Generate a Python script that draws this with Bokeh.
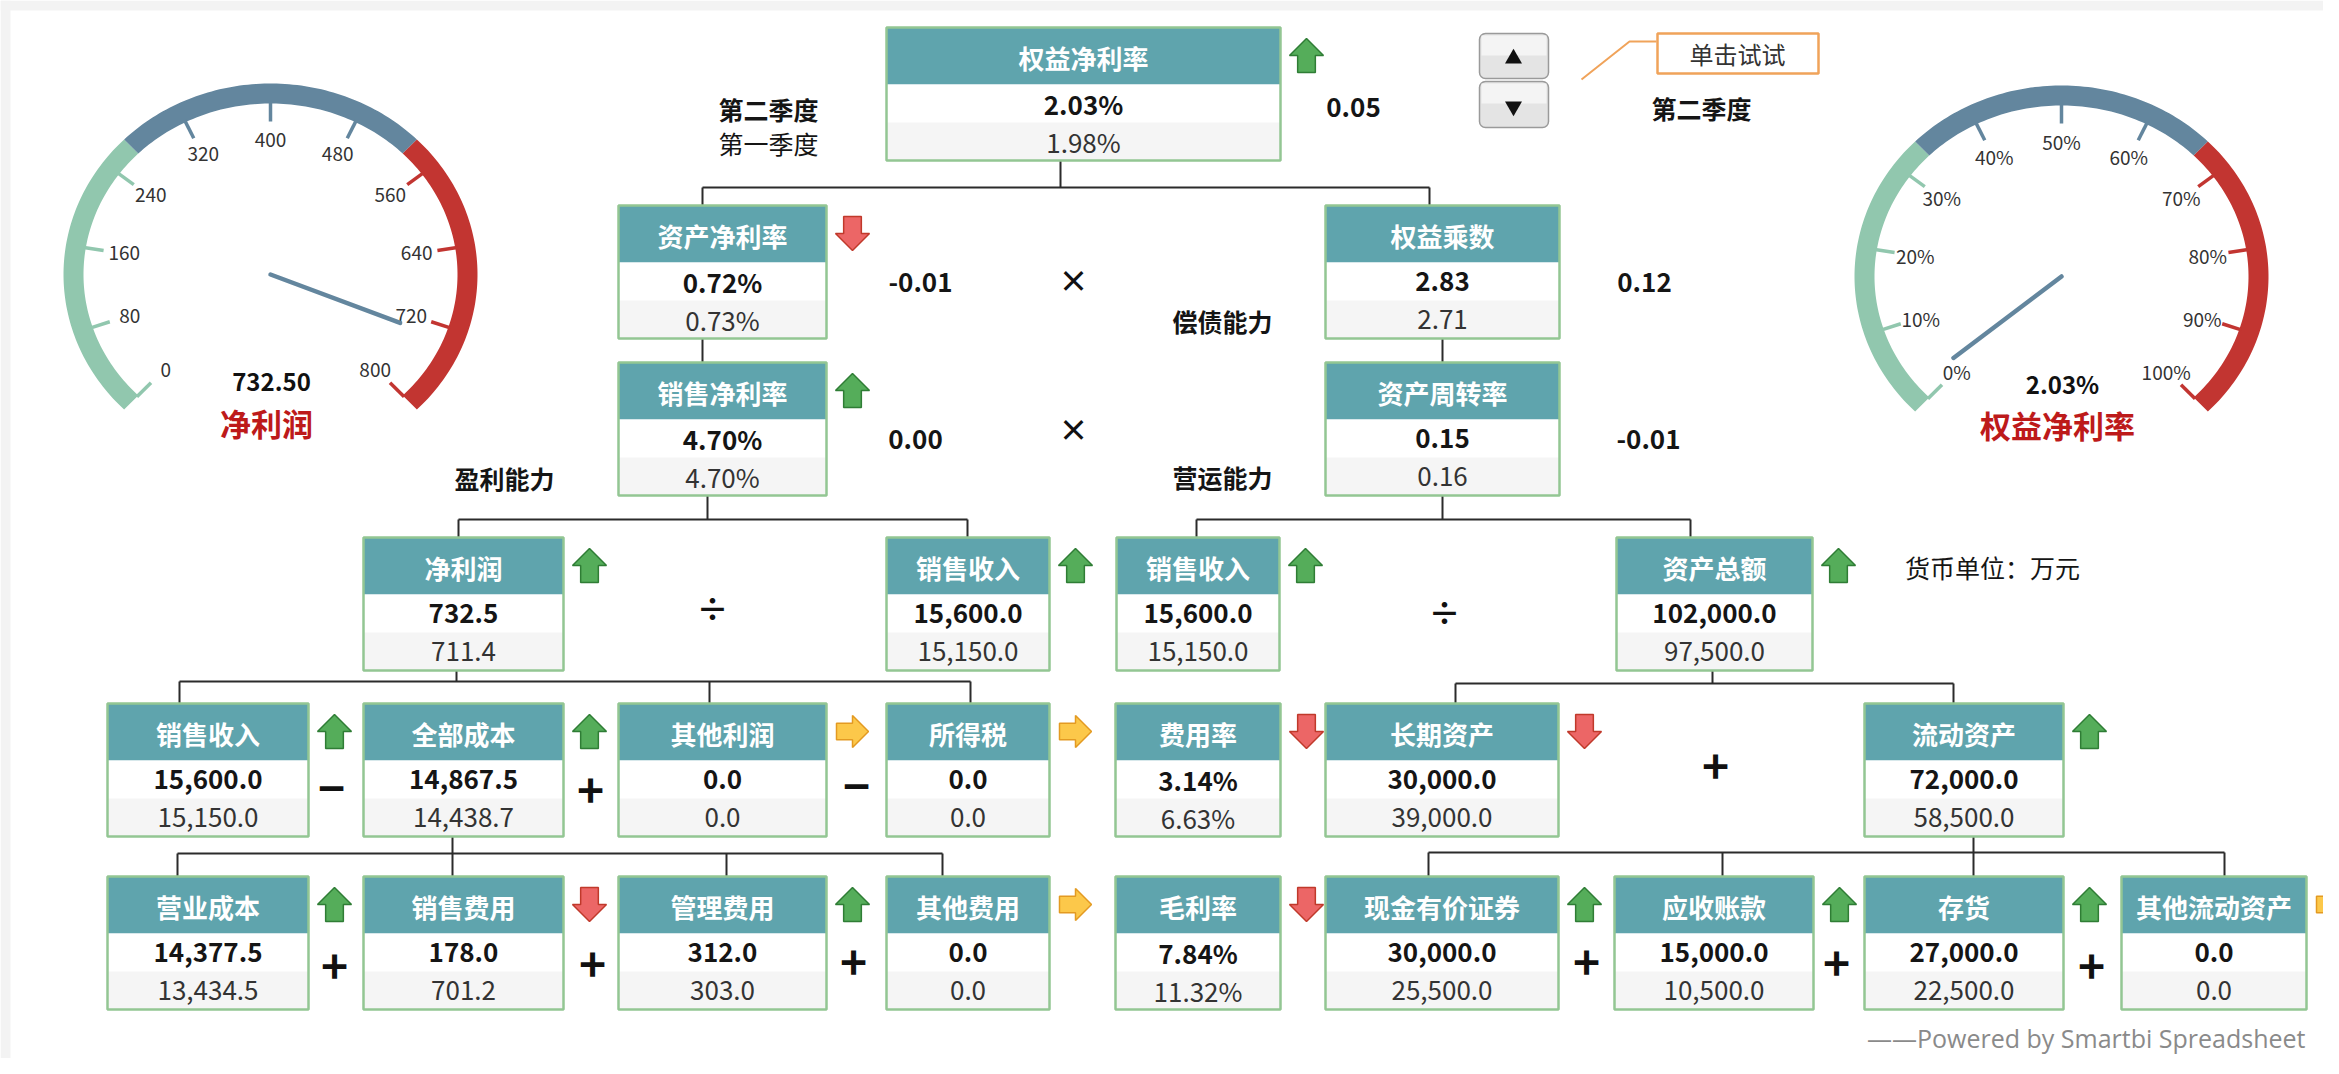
import numpy as np
from bokeh.plotting import figure
from bokeh.models import Range1d, ColumnDataSource
from bokeh.core.properties import value
from bokeh.embed import file_html
from bokeh.resources import INLINE

FONT = value("Noto Sans CJK SC")

# ------------------------------------------------------------------ data
node_names = ["权益净利率", "资产净利率", "权益乘数", "销售净利率", "资产周转率",
              "净利润", "销售收入", "销售收入", "资产总额",
              "销售收入", "全部成本", "其他利润", "所得税", "费用率", "长期资产", "流动资产",
              "营业成本", "销售费用", "管理费用", "其他费用", "毛利率", "现金有价证券",
              "应收账款", "存货", "其他流动资产"]
cur_vals = ["2.03%", "0.72%", "2.83", "4.70%", "0.15",
            "732.5", "15,600.0", "15,600.0", "102,000.0",
            "15,600.0", "14,867.5", "0.0", "0.0", "3.14%", "30,000.0", "72,000.0",
            "14,377.5", "178.0", "312.0", "0.0", "7.84%", "30,000.0",
            "15,000.0", "27,000.0", "0.0"]
prev_vals = ["1.98%", "0.73%", "2.71", "4.70%", "0.16",
             "711.4", "15,150.0", "15,150.0", "97,500.0",
             "15,150.0", "14,438.7", "0.0", "0.0", "6.63%", "39,000.0", "58,500.0",
             "13,434.5", "701.2", "303.0", "0.0", "11.32%", "25,500.0",
             "10,500.0", "22,500.0", "0.0"]
node_trend = ["up", "down", "none", "up", "none",
              "up", "up", "up", "up",
              "up", "up", "flat", "flat", "down", "down", "up",
              "up", "down", "up", "flat", "down", "up",
              "up", "up", "flat"]
diff_labels = ["0.05", "-0.01", "0.12", "0.00", "-0.01"]
operators = ["×", "×", "÷", "÷", "−", "+", "−", "+", "+", "+", "+", "+", "+", "+"]
period_labels = ["第二季度", "第一季度", "第二季度"]
side_labels = ["偿债能力", "盈利能力", "营运能力", "货币单位：万元"]
button_text = "单击试试"
footer_text = "——Powered by Smartbi Spreadsheet"

gauge1_title = "净利润"
gauge1_value = 732.5
gauge1_max = 800
gauge1_ticks = [0, 80, 160, 240, 320, 400, 480, 560, 640, 720, 800]
gauge1_labels = ["0", "80", "160", "240", "320", "400", "480", "560", "640", "720", "800"]
gauge1_text = "732.50"

gauge2_title = "权益净利率"
gauge2_value = 2.03
gauge2_max = 100
gauge2_ticks = [0, 10, 20, 30, 40, 50, 60, 70, 80, 90, 100]
gauge2_labels = ["0%", "10%", "20%", "30%", "40%", "50%", "60%", "70%", "80%", "90%", "100%"]
gauge2_text = "2.03%"

gauge_bands = [1 / 3, 2 / 3, 1.0]
gauge_colors = ["#91c7ae", "#63869e", "#c23531"]

# ------------------------------------------------------------------ layout
row_tops = [27, 205, 362, 537, 703, 876]
box_layout = [  # x0, x1, row
    (886, 1280, 0),
    (618, 826, 1), (1325, 1559, 1),
    (618, 826, 2), (1325, 1559, 2),
    (363, 563, 3), (886, 1049, 3), (1116, 1279, 3), (1616, 1812, 3),
    (107, 308, 4), (363, 563, 4), (618, 826, 4), (886, 1049, 4),
    (1115, 1280, 4), (1325, 1558, 4), (1864, 2063, 4),
    (107, 308, 5), (363, 563, 5), (618, 826, 5), (886, 1049, 5),
    (1115, 1280, 5), (1325, 1558, 5), (1614, 1813, 5), (1864, 2063, 5), (2121, 2306, 5),
]
H_HEAD, H_ROW = 57, 38

diff_pos = [(1353, 107), (920, 282), (1644, 282), (915, 439), (1648, 439)]
op_pos = [(1073, 278), (1073, 427), (712, 606), (1444, 610),
          (331, 788), (590, 790), (856, 786), (1715, 766),
          (334, 966), (592, 964), (853, 962), (1586, 962), (1836, 963), (2091, 966)]
op_size = ["30px", "30px", "32px", "32px"] + ["46px"] * 10
period_pos = [(768, 108), (768, 142), (1701, 107)]
period_bold = ["bold", "normal", "bold"]
side_pos = [(1222, 320), (504, 477), (1222, 476), (1992, 566)]
side_bold = ["bold", "bold", "bold", "normal"]

W, H = 2323, 1058
p = figure(width=W, height=H, x_range=Range1d(0, W), y_range=Range1d(H, 0),
           output_backend="svg", toolbar_location=None, min_border=0,
           x_axis_type=None, y_axis_type=None)
p.outline_line_color = None
p.background_fill_color = "white"
p.border_fill_color = "white"

# top / left light band of the sheet
p.quad(left=[0, 0], right=[W, 10], top=[0, 0], bottom=[10, H],
       fill_color="#f3f3f3", line_color=None)

# ------------------------------------------------------------------ connectors
conn_x = [
    [1060, 1060], [702, 1429], [702, 702], [1429, 1429],
    [702, 702], [1442, 1442],
    [707, 707], [458, 967], [458, 458], [967, 967],
    [1442, 1442], [1196, 1690], [1196, 1196], [1690, 1690],
    [456, 456], [179, 970], [179, 179], [709, 709], [970, 970],
    [1712, 1712], [1455, 1953], [1455, 1455], [1953, 1953],
    [452, 452], [177, 942], [177, 177], [726, 726], [942, 942],
    [1973, 1973], [1428, 2224], [1428, 1428], [1722, 1722], [2224, 2224],
]
conn_y = [
    [160, 187], [187, 187], [187, 205], [187, 205],
    [338, 362], [338, 362],
    [495, 519], [519, 519], [519, 537], [519, 537],
    [495, 519], [519, 519], [519, 537], [519, 537],
    [670, 681], [681, 681], [681, 703], [681, 703], [681, 703],
    [670, 683], [683, 683], [683, 703], [683, 703],
    [836, 876], [853, 853], [853, 876], [853, 876], [853, 876],
    [836, 876], [852, 852], [852, 876], [852, 876], [852, 876],
]
p.multi_line(conn_x, conn_y, line_color="#2b2b2b", line_width=2)

# ------------------------------------------------------------------ boxes
bx0 = [b[0] for b in box_layout]
bx1 = [b[1] for b in box_layout]
btop = [row_tops[b[2]] for b in box_layout]
src = ColumnDataSource(dict(
    x0=bx0, x1=bx1,
    t=btop,
    h1=[t + H_HEAD for t in btop],
    h2=[t + H_HEAD + H_ROW for t in btop],
    h3=[t + H_HEAD + 2 * H_ROW for t in btop],
    cx=[(a + b) / 2 for a, b in zip(bx0, bx1)],
    ty=[t + H_HEAD / 2 + 1 for t in btop],
    vy=[t + H_HEAD + H_ROW / 2 for t in btop],
    py=[t + H_HEAD + 1.5 * H_ROW for t in btop],
    name=node_names, cur=cur_vals, prev=prev_vals,
))
p.quad(left="x0", right="x1", top="t", bottom="h1", source=src,
       fill_color="#5fa4ad", line_color=None)
p.quad(left="x0", right="x1", top="h1", bottom="h2", source=src,
       fill_color="white", line_color=None)
p.quad(left="x0", right="x1", top="h2", bottom="h3", source=src,
       fill_color="#f5f5f5", line_color=None)
p.quad(left="x0", right="x1", top="t", bottom="h3", source=src,
       fill_color=None, line_color="#93c693", line_width=2.5)
p.text(x="cx", y="ty", text="name", source=src, text_font=FONT, text_font_style="bold",
       text_font_size="26px", text_color="white", text_align="center", text_baseline="middle")
p.text(x="cx", y="vy", text="cur", source=src, text_font=FONT, text_font_style="bold",
       text_font_size="26px", text_color="#151515", text_align="center", text_baseline="middle")
p.text(x="cx", y="py", text="prev", source=src, text_font=FONT,
       text_font_size="26px", text_color="#333333", text_align="center", text_baseline="middle")

# ------------------------------------------------------------------ trend arrows
def arrow_shape(cx, cy, d, s):
    local = [(0, -s), (s, 0), (s * 0.52, 0), (s * 0.52, s), (-s * 0.52, s), (-s * 0.52, 0), (-s, 0)]
    if d == "up":
        pts = local
    elif d == "down":
        pts = [(x, -y) for x, y in local]
    else:
        pts = [(-y, x) for x, y in local]
    return [cx + x for x, _ in pts], [cy + y for _, y in pts]

arrow_style = {"up": ("#55ad5a", "#2f7d35", 17),
               "down": ("#ec6666", "#c0392b", 17),
               "flat": ("#fcc84a", "#e39a22", 16)}
axs, ays, afc, alc = [], [], [], []
for (x0, x1, r), tr in zip(box_layout, node_trend):
    if tr == "none":
        continue
    fc, lc, s = arrow_style[tr]
    ax, ay = arrow_shape(x1 + 26, row_tops[r] + 28, tr, s)
    axs.append(ax); ays.append(ay); afc.append(fc); alc.append(lc)
p.patches(axs, ays, fill_color=afc, line_color=alc, line_width=1.5)

# ------------------------------------------------------------------ free texts
p.text(x=[q[0] for q in diff_pos], y=[q[1] for q in diff_pos], text=diff_labels,
       text_font=FONT, text_font_style="bold", text_font_size="26px", text_color="#151515",
       text_align="center", text_baseline="middle")
osrc = ColumnDataSource(dict(x=[q[0] for q in op_pos], y=[q[1] for q in op_pos],
                             t=operators, fs=op_size))
p.text(x="x", y="y", text="t", source=osrc, text_font=FONT, text_font_style="bold",
       text_font_size="fs", text_color="#111111", text_align="center", text_baseline="middle")
psrc = ColumnDataSource(dict(x=[q[0] for q in period_pos], y=[q[1] for q in period_pos],
                             t=period_labels, st=period_bold))
p.text(x="x", y="y", text="t", source=psrc, text_font=FONT, text_font_style="st",
       text_font_size="25px", text_color="#151515", text_align="center", text_baseline="middle")
ssrc = ColumnDataSource(dict(x=[q[0] for q in side_pos], y=[q[1] for q in side_pos],
                             t=side_labels, st=side_bold))
p.text(x="x", y="y", text="t", source=ssrc, text_font=FONT, text_font_style="st",
       text_font_size="25px", text_color="#151515", text_align="center", text_baseline="middle")

# spinner buttons + callout
p.quad(left=[1479, 1479], right=[1548, 1548], top=[33, 81], bottom=[78, 127],
       fill_color="#e4e4e4", line_color="#9a9a9a", line_width=1.5,
       border_radius=6)
p.quad(left=[1481, 1481], right=[1546, 1546], top=[35, 83], bottom=[55, 103],
       fill_color="#f4f4f4", line_color=None)
p.scatter(x=[1513, 1513], y=[58, 106], marker=["triangle", "inverted_triangle"],
          size=17, fill_color="#111111", line_color=None)
p.line(x=[1581, 1629, 1656], y=[79, 41, 41], line_color="#f0a35a", line_width=2)
p.quad(left=[1657], right=[1818], top=[33], bottom=[73], fill_color="white",
       line_color="#f0a35a", line_width=2.5)
p.text(x=[1737], y=[53], text=[button_text], text_font=FONT, text_font_size="24px",
       text_color="#333333", text_align="center", text_baseline="middle")

# footer
p.text(x=[2305], y=[1037], text=[footer_text], text_font=value("Open Sans"),
       text_font_size="25px", text_color="#8a8a8a", text_align="right", text_baseline="middle")

# ------------------------------------------------------------------ gauges
def gauge(cx, cy, vmax, ticks, labels, val, val_text, title):
    rx, ry, th = 207, 191, 20

    def ang(v):
        return np.deg2rad(225 - v / vmax * 270)

    xs, ys = [], []
    start = 0.0
    for frac in gauge_bands:
        a = np.linspace(ang(start * vmax), ang(frac * vmax), 80)
        ox, oy = cx + rx * np.cos(a), cy - ry * np.sin(a)
        ai = a[::-1]
        ix, iy = cx + (rx - th) * np.cos(ai), cy - (ry - th) * np.sin(ai)
        xs.append(list(ox) + list(ix))
        ys.append(list(oy) + list(iy))
        start = frac
    p.patches(xs, ys, fill_color=gauge_colors, line_color=None)

    tx0, ty0, tx1, ty1, tc, lx, ly = [], [], [], [], [], [], []
    for t in ticks:
        a = ang(t)
        f = t / vmax
        col = gauge_colors[next(i for i, b in enumerate(gauge_bands) if f <= b + 1e-9)]
        tx0.append(cx + (rx - th + 2) * np.cos(a)); ty0.append(cy - (ry - th + 2) * np.sin(a))
        tx1.append(cx + (rx - th - 18) * np.cos(a)); ty1.append(cy - (ry - th - 18) * np.sin(a))
        tc.append(col)
        lx.append(cx + 148 * np.cos(a)); ly.append(cy - 135 * np.sin(a))
    p.segment(tx0, ty0, tx1, ty1, line_color=tc, line_width=3.5)
    p.text(x=lx, y=ly, text=labels, text_font=FONT, text_font_size="19px",
           text_color="#333333", text_align="center", text_baseline="middle")

    a = ang(val)
    p.segment([cx], [cy], [cx + 140 * np.cos(a)], [cy - 128 * np.sin(a)],
              line_color="#63869e", line_width=4.5, line_cap="round")
    p.text(x=[cx + 1], y=[cy + 107], text=[val_text], text_font=FONT, text_font_style="bold",
           text_font_size="24px", text_color="#111111", text_align="center", text_baseline="middle")
    p.text(x=[cx - 4], y=[cy + 148], text=[title], text_font=FONT, text_font_style="bold",
           text_font_size="31px", text_color="#bd1a1a", text_align="center", text_baseline="middle")

gauge(270, 274, gauge1_max, gauge1_ticks, gauge1_labels, gauge1_value, gauge1_text, gauge1_title)
gauge(2061, 276, gauge2_max, gauge2_ticks, gauge2_labels, gauge2_value, gauge2_text, gauge2_title)

open("out.html", "w").write(file_html(p, INLINE))
